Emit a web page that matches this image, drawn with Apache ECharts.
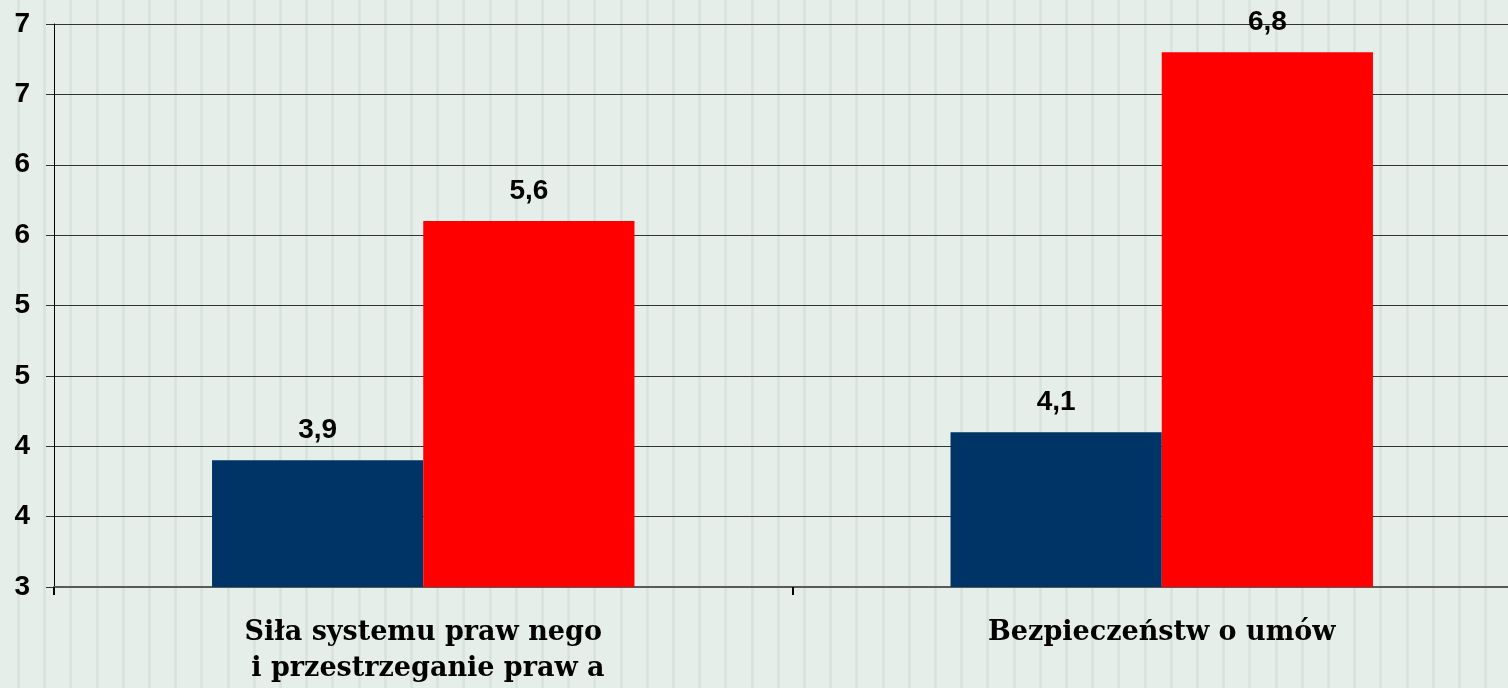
<!DOCTYPE html>
<html>
<head>
<meta charset="utf-8">
<script src="https://cdn.jsdelivr.net/npm/echarts@6/dist/echarts.min.js"></script>
<style>
  html, body { margin: 0; padding: 0; overflow: hidden; }
  body {
    width: 1508px;
    height: 688px;
    background-color: #e5eee9;
    background-image: repeating-linear-gradient(90deg,
      transparent 0px, transparent 17px,
      #dde7e2 17px, #d6e2dc 18.5px, #dde7e2 20px,
      transparent 20px, transparent 26.2px);
  }
  /* plot runs past the right edge in the original, so the canvas is wider */
  #chart { width: 1531px; height: 688px; }
</style>
</head>
<body>
<div id="chart"></div>
<script>
// categories and values
const categories = ['Siła systemu praw nego\n i przestrzeganie praw a', 'Bezpieczeństw o umów']
const seriesA = [3.9, 4.1]
const seriesB = [5.6, 6.8]

const chart = echarts.init(document.getElementById('chart'))

const valueLabel = {
  show: true,
  position: 'top',
  distance: 16,
  fontFamily: 'Liberation Sans, Arial, sans-serif',
  fontWeight: 'bold',
  fontSize: 28,
  color: '#000',
  formatter: p => String(p.value).replace('.', ','),
}

chart.setOption({
  backgroundColor: 'transparent',
  animation: false,
  grid: { left: 54, right: 0, top: 24, bottom: 101 },
  xAxis: {
    type: 'category',
    data: categories,
    axisLine: { lineStyle: { color: '#5a5a5a', width: 2 } },
    axisTick: { show: true, length: 8, lineStyle: { color: '#000', width: 2 } },
    axisLabel: {
      interval: 0,
      margin: 28,
      fontFamily: 'DejaVu Serif, serif',
      fontWeight: 'bold',
      fontSize: 27,
      lineHeight: 36,
      color: '#000',
    },
  },
  yAxis: {
    type: 'value',
    min: 3,
    max: 7,
    interval: 0.5,
    axisLine: { show: true, lineStyle: { color: '#000', width: 1 } },
    axisTick: { show: true, length: 8, lineStyle: { color: '#333' } },
    splitLine: { lineStyle: { color: '#333', width: 1.2 } },
    axisLabel: {
      margin: 24,
      fontFamily: 'Liberation Sans, Arial, sans-serif',
      fontWeight: 'bold',
      fontSize: 28,
      color: '#000',
      formatter: v => String(Math.round(v)),
    },
  },
  series: [
    {
      type: 'bar',
      data: seriesA,
      barWidth: '28.6%',
      barGap: '0%',
      itemStyle: { color: '#003366' },
      label: valueLabel,
    },
    {
      type: 'bar',
      data: seriesB,
      barWidth: '28.6%',
      itemStyle: { color: '#ff0000' },
      label: valueLabel,
    },
  ],
})
</script>
</body>
</html>
